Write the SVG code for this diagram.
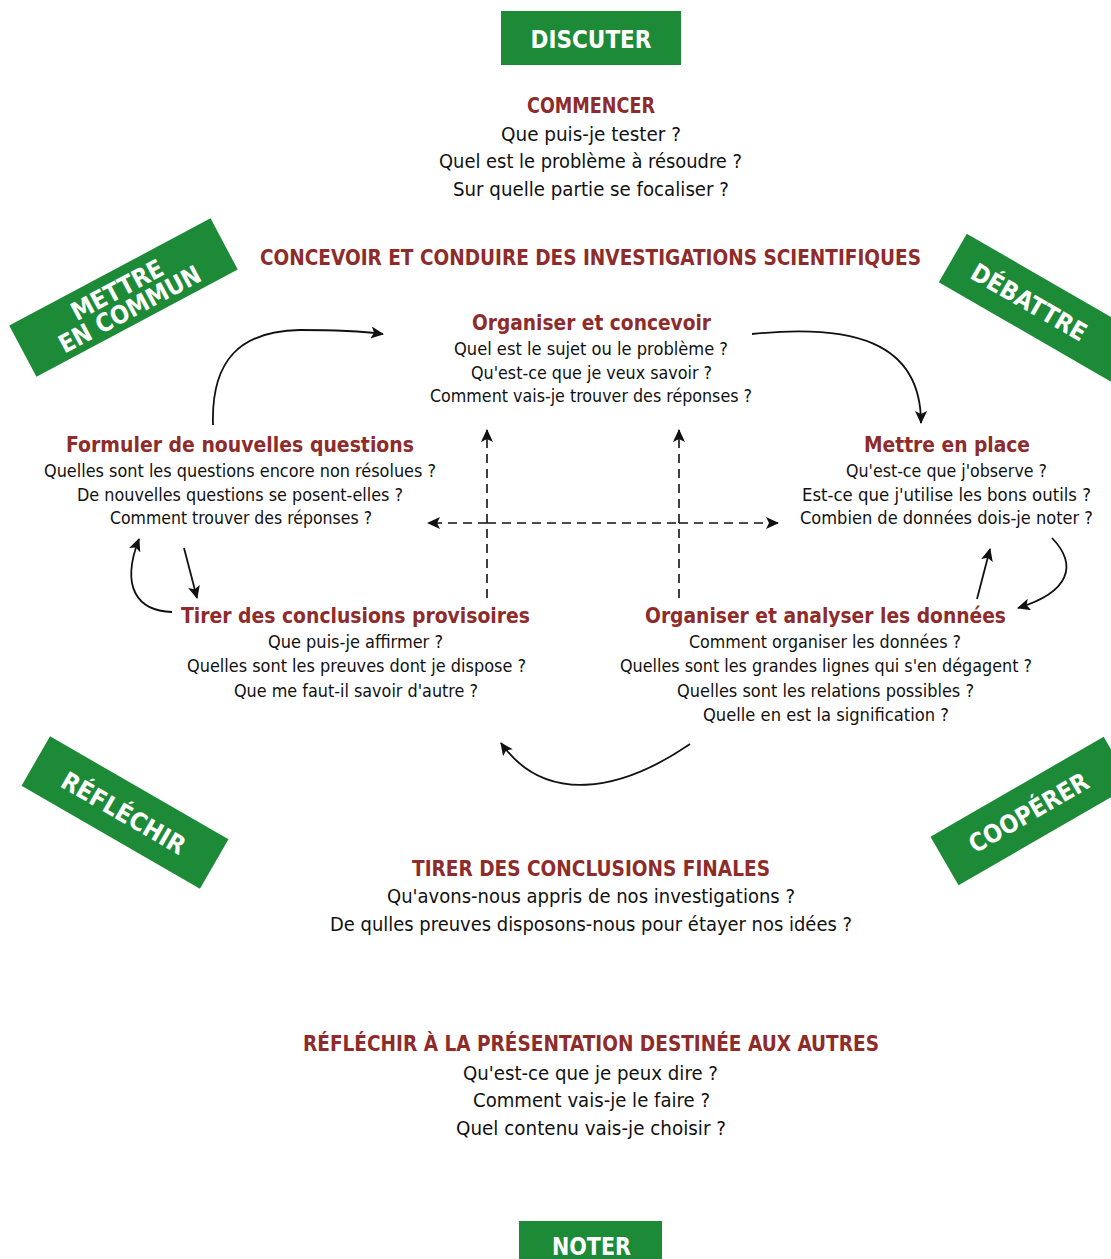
<svg xmlns="http://www.w3.org/2000/svg" width="1111" height="1259" viewBox="0 0 1111 1259">
<style>
.h{font-family:"DejaVu Sans Condensed","DejaVu Sans",sans-serif;font-weight:bold;fill:#8e2b2b;text-anchor:middle;font-size:22px}
.b{font-family:"DejaVu Sans Condensed","DejaVu Sans",sans-serif;fill:#111;text-anchor:middle;font-size:17px}
.bl{font-family:"DejaVu Sans Condensed","DejaVu Sans",sans-serif;fill:#111;text-anchor:middle;font-size:19px}
.g{fill:#1c8a37}
.w{font-family:"DejaVu Sans Condensed","DejaVu Sans",sans-serif;font-weight:bold;fill:#fff;text-anchor:middle;font-size:25px}
.c{fill:none;stroke:#111;stroke-width:1.8}
.d{fill:none;stroke:#111;stroke-width:1.6;stroke-dasharray:9 6}
</style>
<defs>
<marker id="ah" markerUnits="userSpaceOnUse" markerWidth="14" markerHeight="12" refX="12" refY="6" orient="auto">
<path d="M0,0 L13,6 L0,12 L3,6 Z" fill="#111"/>
</marker>
</defs>
<rect width="1111" height="1259" fill="#fff"/>

<g id="discuter">
<rect class="g" x="501" y="11" width="180" height="54"/>
<text class="w" x="591" y="48" textLength="121" lengthAdjust="spacingAndGlyphs">DISCUTER</text>
</g>

<g id="noter">
<rect class="g" x="519" y="1221" width="143" height="40"/>
<text class="w" x="591.5" y="1255" textLength="79" lengthAdjust="spacingAndGlyphs">NOTER</text>
</g>

<g id="mettre-en-commun" transform="translate(123.5,297.5) rotate(-28)">
<rect class="g" x="-114" y="-29" width="228" height="58"/>
<text class="w" x="-2" y="-1" font-size="22" textLength="101" lengthAdjust="spacingAndGlyphs">METTRE</text>
<text class="w" x="0" y="22" font-size="22" textLength="157" lengthAdjust="spacingAndGlyphs">EN COMMUN</text>
</g>

<g id="debattre" transform="translate(1029,302) rotate(30)">
<rect class="g" x="-88" y="-28" width="200" height="56"/>
<text class="w" x="0" y="9" textLength="129" lengthAdjust="spacingAndGlyphs">DÉBATTRE</text>
</g>

<g id="reflechir" transform="translate(125,812.5) rotate(30)">
<rect class="g" x="-103" y="-28.5" width="206" height="57"/>
<text class="w" x="-1" y="10" textLength="139" lengthAdjust="spacingAndGlyphs">RÉFLÉCHIR</text>
</g>

<g id="cooperer" transform="translate(1028.5,812.5) rotate(-30)">
<rect class="g" x="-97" y="-28" width="200" height="56"/>
<text class="w" x="0" y="9" textLength="134" lengthAdjust="spacingAndGlyphs">COOPÉRER</text>
</g>

<g id="commencer">
<text class="h" x="591" y="113" textLength="128" lengthAdjust="spacingAndGlyphs">COMMENCER</text>
<text class="bl" x="591" y="141" textLength="180" lengthAdjust="spacingAndGlyphs">Que puis-je tester ?</text>
<text class="bl" x="590.5" y="168" textLength="303" lengthAdjust="spacingAndGlyphs">Quel est le problème à résoudre ?</text>
<text class="bl" x="591" y="196" textLength="276" lengthAdjust="spacingAndGlyphs">Sur quelle partie se focaliser ?</text>
</g>

<g id="concevoir-conduire">
<text class="h" x="590.5" y="265" font-size="24" textLength="661" lengthAdjust="spacingAndGlyphs">CONCEVOIR ET CONDUIRE DES INVESTIGATIONS SCIENTIFIQUES</text>
</g>

<g id="organiser-concevoir">
<text class="h" x="591.5" y="330" textLength="239" lengthAdjust="spacingAndGlyphs">Organiser et concevoir</text>
<text class="b" x="591" y="355" textLength="274" lengthAdjust="spacingAndGlyphs">Quel est le sujet ou le problème ?</text>
<text class="b" x="591.5" y="379" textLength="241" lengthAdjust="spacingAndGlyphs">Qu'est-ce que je veux savoir ?</text>
<text class="b" x="591" y="402" textLength="322" lengthAdjust="spacingAndGlyphs">Comment vais-je trouver des réponses ?</text>
</g>

<g id="formuler">
<text class="h" x="240" y="452" textLength="348" lengthAdjust="spacingAndGlyphs">Formuler de nouvelles questions</text>
<text class="b" x="240" y="477" textLength="392" lengthAdjust="spacingAndGlyphs">Quelles sont les questions encore non résolues ?</text>
<text class="b" x="240" y="501" textLength="326" lengthAdjust="spacingAndGlyphs">De nouvelles questions se posent-elles ?</text>
<text class="b" x="241" y="524" textLength="262" lengthAdjust="spacingAndGlyphs">Comment trouver des réponses ?</text>
</g>

<g id="mettre-en-place">
<text class="h" x="947" y="452" textLength="166" lengthAdjust="spacingAndGlyphs">Mettre en place</text>
<text class="b" x="946.5" y="477" textLength="201" lengthAdjust="spacingAndGlyphs">Qu'est-ce que j'observe ?</text>
<text class="b" x="946.5" y="501" textLength="289" lengthAdjust="spacingAndGlyphs">Est-ce que j'utilise les bons outils ?</text>
<text class="b" x="946.5" y="524" textLength="293" lengthAdjust="spacingAndGlyphs">Combien de données dois-je noter ?</text>
</g>

<g id="conclusions-provisoires">
<text class="h" x="355.5" y="623" textLength="349" lengthAdjust="spacingAndGlyphs">Tirer des conclusions provisoires</text>
<text class="b" x="355.5" y="648" textLength="175" lengthAdjust="spacingAndGlyphs">Que puis-je affirmer ?</text>
<text class="b" x="356.5" y="672" textLength="339" lengthAdjust="spacingAndGlyphs">Quelles sont les preuves dont je dispose ?</text>
<text class="b" x="356" y="697" textLength="244" lengthAdjust="spacingAndGlyphs">Que me faut-il savoir d'autre ?</text>
</g>

<g id="analyser">
<text class="h" x="825.5" y="623" textLength="361" lengthAdjust="spacingAndGlyphs">Organiser et analyser les données</text>
<text class="b" x="825" y="648" textLength="272" lengthAdjust="spacingAndGlyphs">Comment organiser les données ?</text>
<text class="b" x="826" y="672" textLength="412" lengthAdjust="spacingAndGlyphs">Quelles sont les grandes lignes qui s'en dégagent ?</text>
<text class="b" x="825.5" y="697" textLength="297" lengthAdjust="spacingAndGlyphs">Quelles sont les relations possibles ?</text>
<text class="b" x="826" y="721" textLength="246" lengthAdjust="spacingAndGlyphs">Quelle en est la signification ?</text>
</g>

<g id="conclusions-finales">
<text class="h" x="591" y="876" textLength="358" lengthAdjust="spacingAndGlyphs">TIRER DES CONCLUSIONS FINALES</text>
<text class="bl" x="591" y="903" textLength="408" lengthAdjust="spacingAndGlyphs">Qu'avons-nous appris de nos investigations ?</text>
<text class="bl" x="591" y="931" textLength="522" lengthAdjust="spacingAndGlyphs">De qulles preuves disposons-nous pour étayer nos idées ?</text>
</g>

<g id="presentation">
<text class="h" x="591" y="1051" textLength="576" lengthAdjust="spacingAndGlyphs">RÉFLÉCHIR À LA PRÉSENTATION DESTINÉE AUX AUTRES</text>
<text class="bl" x="590.5" y="1080" textLength="255" lengthAdjust="spacingAndGlyphs">Qu'est-ce que je peux dire ?</text>
<text class="bl" x="591.5" y="1107" textLength="237" lengthAdjust="spacingAndGlyphs">Comment vais-je le faire ?</text>
<text class="bl" x="591" y="1135" textLength="270" lengthAdjust="spacingAndGlyphs">Quel contenu vais-je choisir ?</text>
</g>

<g id="connectors">
<path class="c" d="M213,425 C211,360 240,331 300,330 C335,330 360,331 383,334" marker-end="url(#ah)"/>
<path class="c" d="M752,334 C850,324 921,340 921,423" marker-end="url(#ah)"/>
<path class="c" d="M184,548 L197,598" marker-end="url(#ah)"/>
<path class="c" d="M172,612 C138,611 120,588 139,539" marker-end="url(#ah)"/>
<path class="c" d="M1052,538 C1078,565 1070,592 1018,608" marker-end="url(#ah)"/>
<path class="c" d="M977,599 L990,549" marker-end="url(#ah)"/>
<path class="c" d="M690,744 C620,792 545,805 501,743" marker-end="url(#ah)"/>
<path class="d" d="M487,598 L487,430" marker-end="url(#ah)"/>
<path class="d" d="M679,598 L679,430" marker-end="url(#ah)"/>
<path class="d" d="M487,523 L428,523" marker-end="url(#ah)"/>
<path class="d" d="M487,523 L679,523"/>
<path class="d" d="M679,523 L778,523" marker-end="url(#ah)"/>
</g>
</svg>
